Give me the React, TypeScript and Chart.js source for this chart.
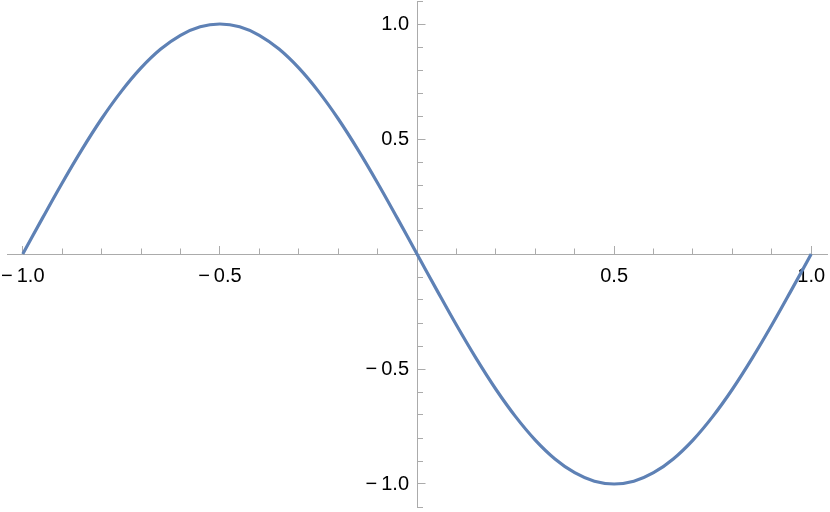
import React, { useEffect, useRef } from 'react';
import { Chart, registerables } from 'chart.js';

Chart.register(...registerables);

const xValues = [
  -1, -0.95, -0.9, -0.85, -0.8, -0.75, -0.7, -0.65, -0.6, -0.55, -0.5,
  -0.45, -0.4, -0.35, -0.3, -0.25, -0.2, -0.15, -0.1, -0.05, 0,
  0.05, 0.1, 0.15, 0.2, 0.25, 0.3, 0.35, 0.4, 0.45, 0.5,
  0.55, 0.6, 0.65, 0.7, 0.75, 0.8, 0.85, 0.9, 0.95, 1,
];
const yValues = [
  0, 0.156, 0.309, 0.454, 0.588, 0.707, 0.809, 0.891, 0.951, 0.988, 1.0,
  0.988, 0.951, 0.891, 0.809, 0.707, 0.588, 0.454, 0.309, 0.156, 0,
  -0.156, -0.309, -0.454, -0.588, -0.707, -0.809, -0.891, -0.951, -0.988, -1.0,
  -0.988, -0.951, -0.891, -0.809, -0.707, -0.588, -0.454, -0.309, -0.156, 0,
];

// Tick labels
const xTickValues = [-1, -0.5, 0.5, 1];
const xTickLabels = ['\u2212\u20091.0', '\u2212\u20090.5', '0.5', '1.0'];
const yTickValues = [-1, -0.5, 0.5, 1];
const yTickLabels = ['\u2212\u20091.0', '\u2212\u20090.5', '0.5', '1.0'];

const X_MIN = -1.04;
const X_MAX = 1.04;
const Y_MIN = -1.1;
const Y_MAX = 1.1;

const AXIS_COLOR = '#ababab';
const LINE_COLOR = '#5e81b5';
const FONT = { family: '"Liberation Sans", Arial, sans-serif', size: 20 };

function labelFor(values: number[], labels: string[]) {
  return (value: number | string) => {
    const v = Number(value);
    const i = values.findIndex((t) => Math.abs(t - v) < 1e-9);
    return i >= 0 ? labels[i] : '';
  };
}

function zeroPadding(scale: any) {
  scale.paddingTop = 0;
  scale.paddingBottom = 0;
  scale.paddingLeft = 0;
  scale.paddingRight = 0;
}

// Chart.js ignores ticks.padding for a y axis placed at {x: value};
// apply that padding to the label items the scale computed.
const yLabelPadding = {
  id: 'yLabelPadding',
  beforeDraw(chart: any) {
    const scale = chart.scales.y;
    if (!scale) return;
    const gap = scale.options.ticks.padding || 0;
    const items = scale.getLabelItems(chart.chartArea);
    items.forEach((it: any) => {
      if (!it.__shifted) {
        it.options.translation[0] -= gap;
        it.__shifted = true;
      }
    });
  },
};

export default function App() {
  const canvasRef = useRef<HTMLCanvasElement | null>(null);

  useEffect(() => {
    if (!canvasRef.current) return;
    const data = xValues.map((x, i) => ({ x, y: yValues[i] }));
    const chart = new Chart(canvasRef.current, {
      type: 'line',
      data: {
        datasets: [
          {
            data,
            borderColor: LINE_COLOR,
            borderWidth: 3.2,
            pointRadius: 0,
            fill: false,
            tension: 0.4,
            xAxisID: 'x',
            yAxisID: 'y',
          },
        ],
      },
      plugins: [yLabelPadding],
      options: {
        animation: false,
        responsive: false,
        events: [],
        layout: { padding: { left: 7, right: 3, top: 1, bottom: 5 } },
        plugins: { legend: { display: false }, tooltip: { enabled: false } },
        scales: {
          x: {
            type: 'linear',
            min: X_MIN,
            max: X_MAX,
            position: { y: 0 } as any,
            afterFit: zeroPadding,
            border: { display: true, color: AXIS_COLOR, width: 1 },
            grid: {
              drawOnChartArea: false,
              drawTicks: true,
              tickLength: -9,
              tickColor: AXIS_COLOR,
              tickWidth: 1,
            },
            ticks: {
              stepSize: 0.5,
              includeBounds: false,
              autoSkip: false,
              maxRotation: 0,
              padding: 19,
              color: '#000',
              font: FONT,
              callback: labelFor(xTickValues, xTickLabels),
            },
          },
          x2: {
            type: 'linear',
            axis: 'x',
            min: X_MIN,
            max: X_MAX,
            position: { y: 0 } as any,
            afterFit: zeroPadding,
            border: { display: false },
            grid: {
              drawOnChartArea: false,
              drawTicks: true,
              tickLength: -5.5,
              tickColor: AXIS_COLOR,
              tickWidth: 1,
            },
            ticks: {
              stepSize: 0.1,
              includeBounds: false,
              autoSkip: false,
              maxRotation: 0,
              display: false,
            },
          },
          y: {
            type: 'linear',
            min: Y_MIN,
            max: Y_MAX,
            position: { x: 0 } as any,
            afterFit: zeroPadding,
            border: { display: true, color: AXIS_COLOR, width: 1 },
            grid: {
              drawOnChartArea: false,
              drawTicks: true,
              tickLength: -8.5,
              tickColor: AXIS_COLOR,
              tickWidth: 1,
            },
            ticks: {
              stepSize: 0.5,
              includeBounds: false,
              autoSkip: false,
              padding: 8,
              color: '#000',
              font: FONT,
              callback: labelFor(yTickValues, yTickLabels),
            },
          },
          y2: {
            type: 'linear',
            axis: 'y',
            min: Y_MIN,
            max: Y_MAX,
            position: { x: 0 } as any,
            afterFit: zeroPadding,
            border: { display: false },
            grid: {
              drawOnChartArea: false,
              drawTicks: true,
              tickLength: -6,
              tickColor: AXIS_COLOR,
              tickWidth: 1,
            },
            ticks: {
              stepSize: 0.1,
              includeBounds: false,
              autoSkip: false,
              display: false,
            },
          },
        },
      } as any,
    });
    return () => chart.destroy();
  }, []);

  return (
    <div style={{ position: 'fixed', left: 0, top: 0, width: 830, height: 512, background: '#fff' }}>
      <canvas ref={canvasRef} width={830} height={512} style={{ display: 'block' }} />
    </div>
  );
}
